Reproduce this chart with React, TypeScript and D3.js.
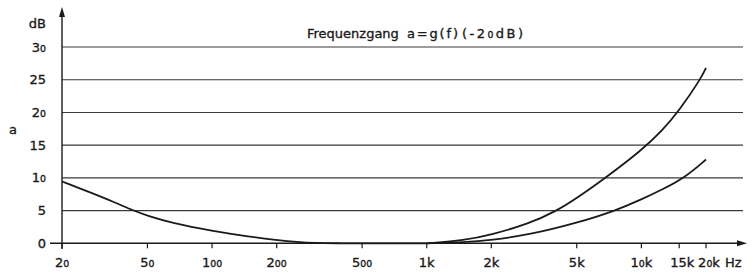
import React, { useEffect, useRef } from 'react';
import * as d3 from 'd3';

// Frequency response (Hz, dB)
const lowFreq = [20, 26.5, 35, 43, 50, 65, 100, 150, 200, 250, 300, 400];
const lowDb = [9.45, 7.9, 6.3, 5.0, 4.2, 3.1, 1.9, 1.0, 0.5, 0.18, 0.03, 0];

const midFreq = [400, 1000];
const midDb = [0, 0];

const upperFreq = [1000, 1500, 2000, 3000, 4000, 5000, 6800, 10000, 12500, 15000, 18800, 20000];
const upperDb = [0, 0.45, 1.3, 3.0, 4.9, 6.9, 10.0, 14.2, 17.2, 20.3, 25.0, 26.8];

const lowerFreq = [1000, 1500, 2000, 3000, 5000, 7600, 10000, 12500, 15900, 20000];
const lowerDb = [0, 0.15, 0.5, 1.3, 3.1, 5.0, 6.7, 8.2, 10.0, 12.8];

const xTicks = [20, 50, 100, 200, 500, 1000, 2000, 5000, 10000, 15000, 20000];
const xTickLabels = ['20', '50', '100', '200', '500', '1k', '2k', '5k', '10k', '15k', '20k'];
const yTicks = [0, 5, 10, 15, 20, 25, 30];

const FONT = '"DejaVu Sans", sans-serif';
const INK = '#1a1a1a';

// the lettering stencil draws zeros after a digit as a small "o"
function Lettered({ s, size }: { s: string; size: number }) {
  const parts = s.split('');
  return (
    <>
      {parts.map((c, i) =>
        c === '0' && i > 0 && /[0-9]/.test(parts[i - 1]) ? (
          <tspan key={i} fontSize={size * 0.72}>0</tspan>
        ) : (
          <tspan key={i}>{c}</tspan>
        )
      )}
    </>
  );
}

export default function App() {
  const ref = useRef<SVGGElement>(null);
  const W = 753, H = 273;
  const x = d3.scaleLog().domain([20, 20000]).range([62, 706]);
  const y = d3.scaleLinear().domain([0, 30]).range([243.3, 47]);

  useEffect(() => {
    const g = d3.select(ref.current);
    g.selectAll('*').remove();
    const line = d3.line<[number, number]>()
      .x(d => x(d[0]))
      .y(d => y(d[1]))
      .curve(d3.curveBasis);
    const series: [number[], number[]][] = [
      [lowFreq, lowDb], [midFreq, midDb], [upperFreq, upperDb], [lowerFreq, lowerDb],
    ];
    series.forEach(([f, v]) => {
      g.append('path')
        .datum(f.map((fv, i) => [fv, v[i]] as [number, number]))
        .attr('d', line)
        .attr('fill', 'none')
        .attr('stroke', INK)
        .attr('stroke-width', 1.8);
    });
  }, []);

  const textStyle = { fontSize: 13, fill: INK, stroke: INK, strokeWidth: 0.35 };
  // the last labels sit slightly right of their ticks in the drawing
  const labelShift = (t: number) => (t === 20000 ? 3 : t === 15000 ? 3 : 0);

  return (
    <svg width={W} height={H} style={{ position: 'absolute', left: 0, top: 0, background: '#fff' }}
      fontFamily={FONT}>
      {/* gridlines */}
      {yTicks.filter(t => t > 0).map(t => (
        <line key={t} x1={62} x2={743} y1={y(t)} y2={y(t)} stroke="#3a3a3a" strokeWidth={1.1} />
      ))}
      {/* axes */}
      <line x1={50} x2={740} y1={y(0)} y2={y(0)} stroke={INK} strokeWidth={1.4} />
      <path d={`M747,${y(0)} L737,${y(0) - 3} L737,${y(0) + 3} Z`} fill={INK} />
      <line x1={62} x2={62} y1={249} y2={14} stroke={INK} strokeWidth={1.4} />
      <path d={`M62,7 L59,17 L65,17 Z`} fill={INK} />
      {xTicks.map(t => (
        <line key={t} x1={x(t)} x2={x(t)} y1={y(0)} y2={y(0) + 5} stroke={INK} strokeWidth={1.2} />
      ))}
      {xTicks.map((t, i) => (
        <text key={t} x={x(t) + labelShift(t)} y={267} textAnchor="middle" style={textStyle}>
          <Lettered s={xTickLabels[i]} size={13} />
        </text>
      ))}
      <text x={725} y={267} style={textStyle}>Hz</text>
      {yTicks.map(t => (
        <text key={t} x={46} y={y(t) + 4.5} textAnchor="end" style={textStyle}>
          <Lettered s={String(t)} size={13} />
        </text>
      ))}
      <text x={46} y={28} textAnchor="end" style={textStyle}>dB</text>
      <text x={9} y={134} style={textStyle}>a</text>
      <text x={307} y={38} style={textStyle}>Frequenzgang</text>
      <text x={407} y={38} style={textStyle} textLength={51} lengthAdjust="spacing">a=g(f)</text>
      <text x={462} y={38} style={textStyle} textLength={61} lengthAdjust="spacing">
        (-2<tspan fontSize={13 * 0.72}>0</tspan>dB)
      </text>
      <g ref={ref} />
    </svg>
  );
}
